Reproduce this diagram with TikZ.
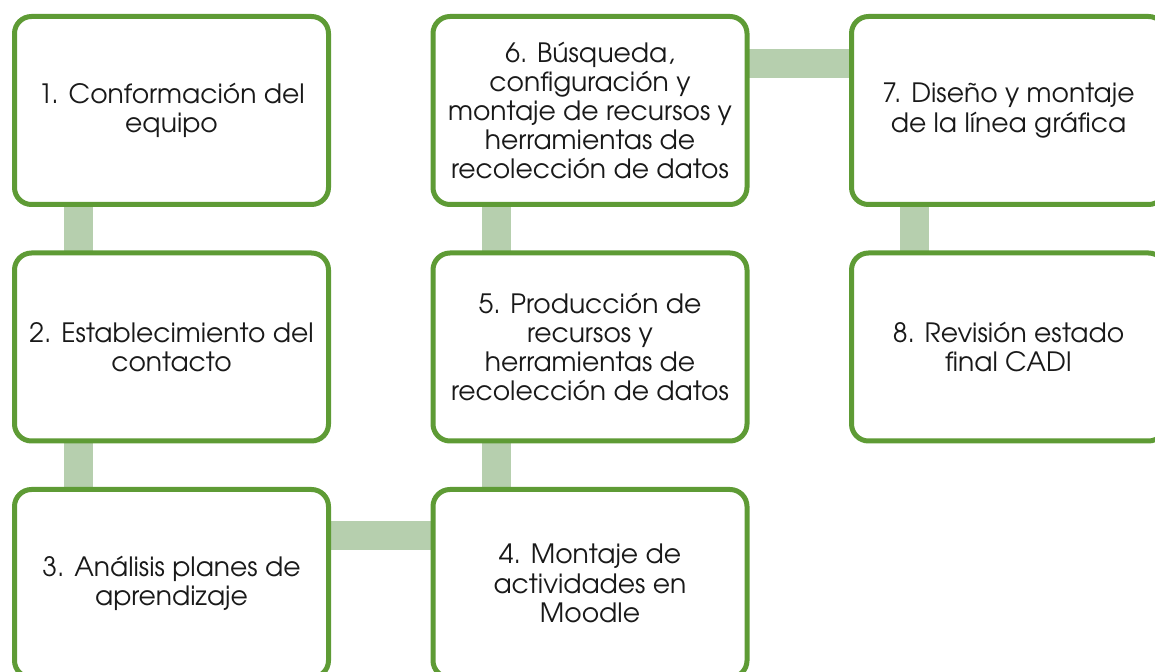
\documentclass[tikz,border=0pt]{standalone}
\usepackage{fontspec}
\setmainfont{TeX Gyre Adventor}
\usetikzlibrary{backgrounds}
\definecolor{boxgreen}{HTML}{5E9B35}
\definecolor{linkgreen}{HTML}{B6CFAE}

\begin{document}
\begin{tikzpicture}[x=0.5pt, y=-0.5pt,
  stage/.style={draw=boxgreen, line width=2.5pt, fill=white, rounded corners=8.5pt,
    minimum width=157pt, minimum height=94pt, outer sep=0pt, align=center,
    font=\fontsize{13.3}{14.6}\selectfont, text=black!90},
  link/.style={draw=linkgreen, line width=14.5pt}]
  \useasboundingbox (0,0) rectangle (1155,672);
  \clip (0,0) rectangle (1155,672);
  \node[stage] (s1) at (171.5,110.5) {1. Conformación del\\equipo};
  \node[stage] (s2) at (171.5,347) {2. Establecimiento del\\contacto};
  \node[stage] (s3) at (171.5,583.5) {3. Análisis planes de\\aprendizaje};
  \node[stage] (s4) at (590,583.5) {4. Montaje de\\actividades en\\Moodle};
  \node[stage] (s5) at (590,347) {5. Producción de\\recursos y\\herramientas de\\recolección de datos};
  \node[stage] (s6) at (590,110.5) {6. Búsqueda,\\configuración y\\montaje de recursos y\\herramientas de\\recolección de datos};
  \node[stage] (s7) at (1008.5,110.5) {7. Diseño y montaje\\de la línea gráfica};
  \node[stage] (s8) at (1008.5,347) {8. Revisión estado\\final CADI};
  \begin{scope}[on background layer]
    \draw[link] ([xshift=32pt]s1.south west) -- ([xshift=32pt]s2.north west);
    \draw[link] ([xshift=32pt]s2.south west) -- ([xshift=32pt]s3.north west);
    \draw[link] ([yshift=-23pt]s3.north east) -- ([yshift=-23pt]s4.north west);
    \draw[link] ([xshift=31.5pt]s4.north west) -- ([xshift=31.5pt]s5.south west);
    \draw[link] ([xshift=31.5pt]s5.north west) -- ([xshift=31.5pt]s6.south west);
    \draw[link] ([yshift=-23.5pt]s6.north east) -- ([yshift=-23.5pt]s7.north west);
    \draw[link] ([xshift=31.5pt]s7.south west) -- ([xshift=31.5pt]s8.north west);
  \end{scope}
\end{tikzpicture}
\end{document}
